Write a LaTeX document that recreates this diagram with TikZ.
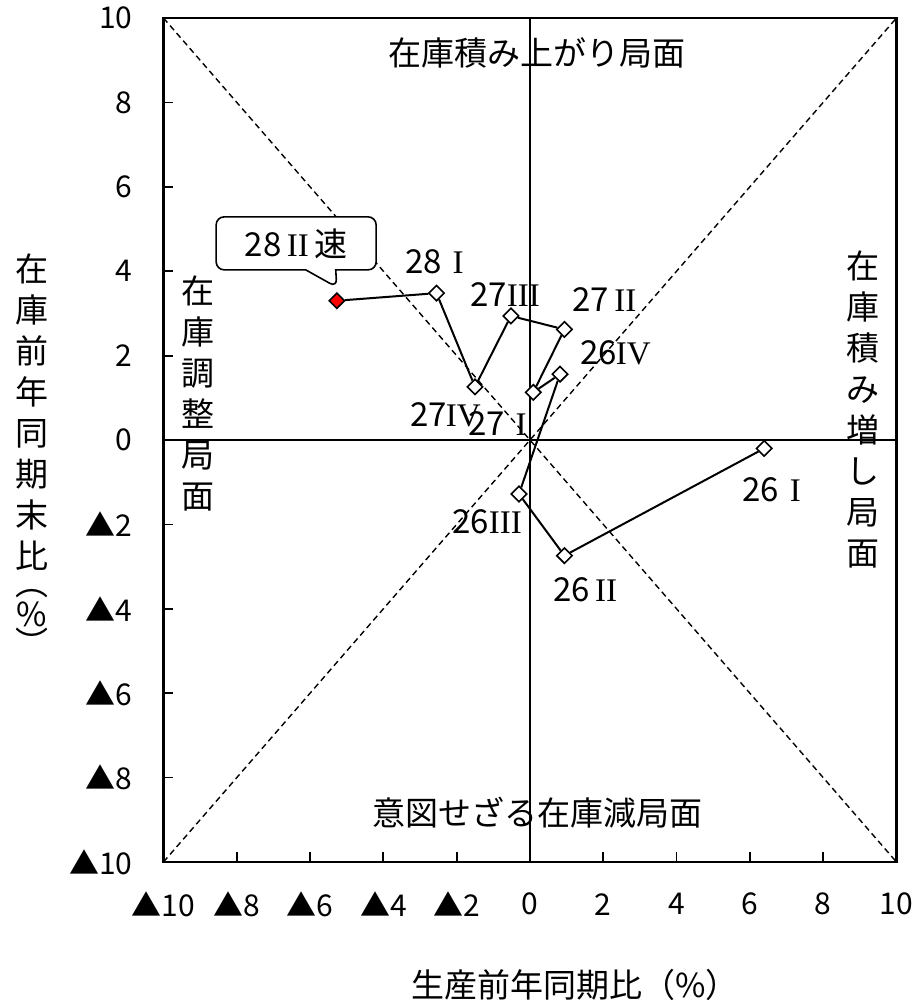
\documentclass[tikz,border=0pt]{standalone}
\usepackage{fontspec}
\setmainfont{Noto Sans CJK JP}
\newfontfamily\romfont{Liberation Serif}
\newcommand{\rnum}[1]{\makebox[1em]{\romfont #1}}
\usetikzlibrary{shapes.geometric,shapes.callouts}

\begin{document}
\begin{tikzpicture}[x=18.325pt,y=21.1pt,
        font=\fontsize{16.5}{20.5}\selectfont,
        frame/.style={line width=1.4pt},
        axis0/.style={line width=0.9pt},
        guide/.style={dash pattern=on 3pt off 2pt,line width=0.7pt},
        series/.style={line width=1pt},
        pt/.style={diamond,draw,line width=0.8pt,fill=white,inner sep=0pt,minimum size=8pt},
        ptnew/.style={pt,fill=red},
        ticklab/.style={font=\fontsize{15}{18}\selectfont,inner sep=1pt},
        vert/.style={align=center,inner sep=0pt,anchor=north}]

  \useasboundingbox (-14.461,-13.389) rectangle (10.559,10.427);

  % diagonals and zero lines
  \draw[guide] (-10,10) -- (10,-10);
  \draw[guide] (-10,-10) -- (10,10);
  \draw[axis0] (0,-10) -- (0,10);
  \draw[axis0] (-10,0) -- (10,0);
  \draw[frame] (-10,-10) rectangle (10,10);
  \foreach \v in {-8,-6,...,8} {
    \draw[axis0] (-10,\v) -- ++(5pt,0);
    \draw[axis0] (\v,-10) -- ++(0,5pt);
  }

  % tick labels
  \foreach \v/\t [count=\i] in {-10/▲10,-8/▲8,-6/▲6,-4/▲4,-2/▲2,0/0,2/2,4/4,6/6,8/8,10/10} {
    \node[ticklab] (xt\i) at (\v,-11.0) {\t};
    \node[ticklab,anchor=east] (yt\i) at (-10.78,\v) {\t};
  }

  % phase labels
  \node (top) at (0.19,9.17) {在庫積み上がり局面};
  \node (bot) at (0.20,-8.84) {意図せざる在庫減局面};
  \node[vert] (left) at (-9.06,3.91) {在\\庫\\調\\整\\局\\面};
  \node[vert] (right) at (9.09,4.50) {在\\庫\\積\\み\\増\\し\\局\\面};

  % axis titles
  \node[vert] (ytitle) at (-13.59,4.43) {在\\庫\\前\\年\\同\\期\\末\\比\\[-7pt]︵\\[-5pt]\%\\[-6pt]︶};
  \node (xtitle) at (1.23,-12.91) {生産前年同期比（\%）};

  % data
  \node[pt] (p261) at (6.39,-0.20) {};
  \node[pt] (p262) at (0.94,-2.74) {};
  \node[pt] (p263) at (-0.30,-1.28) {};
  \node[pt] (p264) at (0.82,1.56) {};
  \node[pt] (p271) at (0.09,1.13) {};
  \node[pt] (p272) at (0.94,2.62) {};
  \node[pt] (p273) at (-0.52,2.94) {};
  \node[pt] (p274) at (-1.50,1.26) {};
  \node[pt] (p281) at (-2.55,3.48) {};
  \node[ptnew] (p282) at (-5.27,3.30) {};

  \draw[series] (p261) -- (p262) -- (p263) -- (p264) -- (p271) -- (p272)
        -- (p273) -- (p274) -- (p281) -- (p282);

  \node (l261) at (6.74,-1.18) {26\rnum{I}};
  \node (l262) at (1.58,-3.55) {26\rnum{II}};
  \node (l263) at (-1.17,-1.94) {26\rnum{III}};
  \node (l264) at (2.32,2.06) {26\rnum{IV}};
  \node (l271) at (-0.74,0.38) {27\rnum{I}};
  \node (l272) at (2.10,3.32) {27\rnum{II}};
  \node (l273) at (-0.68,3.44) {27\rnum{III}};
  \node (l274) at (-2.32,0.59) {27\rnum{IV}};
  \node (l281) at (-2.46,4.22) {28\rnum{I}};

  \coordinate (tip28) at (-5.27,3.62);
  \node[rectangle callout,draw,line width=0.8pt,rounded corners=4pt,fill=white,
        minimum width=80pt,minimum height=26.5pt,
        callout absolute pointer={(tip28)},callout pointer width=15pt]
        (c28) at (-6.38,4.66) {28\rnum{II}速};

\end{tikzpicture}
\end{document}
